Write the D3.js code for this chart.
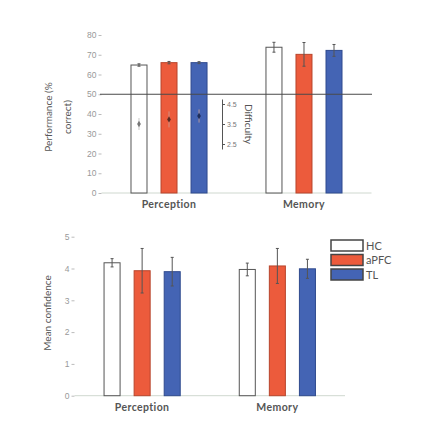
<!DOCTYPE html>
<html>
<head>
<meta charset="utf-8">
<script src="https://cdn.jsdelivr.net/npm/d3@7"></script>
<style>
  body { margin: 0; background: #fff; }
  svg { display: block; font-family: Lato, "DejaVu Sans", sans-serif; }
</style>
</head>
<body>
<svg id="chart" width="426" height="432"></svg>
<script>
// data
let tasks = ["Perception", "Memory"];
let groups = ["HC", "aPFC", "TL"];
let groupColor = ["#ffffff", "#ec5b3c", "#4464b4"];
let groupStroke = ["#555555", "#b8452c", "#2f4a8e"];

let perfMean = [[64.8, 66.0, 66.0], [73.8, 70.2, 72.2]];
let perfErr  = [[0.6, 0.6, 0.5], [2.5, 6.0, 3.0]];
let perfTicks = [0, 10, 20, 30, 40, 50, 60, 70, 80];

let diffMean = [3.5, 3.73, 3.9];
let diffErr  = [0.3, 0.4, 0.33];
let diffTicks = [2.5, 3.5, 4.5];

let confMean = [[4.18, 3.93, 3.9], [3.97, 4.08, 3.99]];
let confErr  = [[0.13, 0.7, 0.45], [0.2, 0.55, 0.3]];
let confTicks = [0, 1, 2, 3, 4, 5];

let svg = d3.select("#chart");

function rows(means, errs) {
    let out = [];
    for (let i = 0; i < tasks.length; i++) {
        for (let j = 0; j < groups.length; j++) {
            out.push({task: tasks[i], group: groups[j], g: j, val: means[i][j], err: errs[i][j]});
        }
    }
    return out;
}

function panel(opt) {
    let x0 = d3.scaleBand().domain(tasks).range(opt.xr).paddingInner(0.333).paddingOuter(0.1667);
    let x1 = d3.scaleBand().domain(groups).range([0, x0.bandwidth()]).paddingInner(0.467).paddingOuter(0.233);
    let y = d3.scaleLinear().domain(opt.yd).range(opt.yr);
    let g = svg.append("g");

    // baseline
    g.append("line")
        .attr("x1", opt.xr[0]).attr("x2", opt.xr[1])
        .attr("y1", y(0)).attr("y2", y(0))
        .attr("stroke", "#cfd8cf").attr("stroke-width", 1);

    // y axis
    let ax = g.append("g")
        .attr("transform", `translate(${opt.xr[0]},0)`)
        .call(d3.axisLeft(y).tickValues(opt.ticks).tickFormat(d => d).tickSize(3).tickPadding(2));
    ax.select(".domain").remove();
    ax.selectAll(".tick line").attr("stroke", "#bbbbbb");
    ax.selectAll("text").attr("fill", "#999999").style("font-size", "8.5px");

    g.append("text")
        .attr("transform", `translate(${opt.labelX},${opt.labelY}) rotate(-90)`)
        .attr("text-anchor", "middle")
        .attr("fill", "#555")
        .style("font-size", "10px")
        .selectAll("tspan").data(opt.label).enter().append("tspan")
            .attr("x", 0).attr("dy", (d, i) => i == 0 ? 0 : 19)
            .text(d => d);

    // category labels
    g.selectAll("text.cat").data(tasks).enter().append("text")
        .attr("class", "cat")
        .attr("x", d => x0(d) + x0.bandwidth() / 2)
        .attr("y", y(0) + opt.catDy)
        .attr("text-anchor", "middle")
        .attr("fill", "#555")
        .style("font-size", "10.5px")
        .style("font-weight", "bold")
        .style("letter-spacing", "0.4px")
        .text(d => d);

    let data = rows(opt.means, opt.errs);
    let cx = d => x0(d.task) + x1(d.group) + x1.bandwidth() / 2;

    g.selectAll("rect.bar").data(data).enter().append("rect")
        .attr("class", "bar")
        .attr("x", d => x0(d.task) + x1(d.group))
        .attr("y", d => y(d.val))
        .attr("width", x1.bandwidth())
        .attr("height", d => y(0) - y(d.val))
        .attr("fill", d => groupColor[d.g])
        .attr("stroke", d => groupStroke[d.g])
        .attr("stroke-width", 1);

    // error bars
    g.selectAll("line.err").data(data).enter().append("line")
        .attr("class", "err")
        .attr("x1", cx).attr("x2", cx)
        .attr("y1", d => y(d.val + d.err)).attr("y2", d => y(d.val - d.err))
        .attr("stroke", "#555").attr("stroke-width", 1);
    g.selectAll("line.cap").data(data.concat(data)).enter().append("line")
        .attr("class", "cap")
        .attr("x1", d => cx(d) - 1.5).attr("x2", d => cx(d) + 1.5)
        .attr("y1", (d, i) => y(i < data.length ? d.val + d.err : d.val - d.err))
        .attr("y2", (d, i) => y(i < data.length ? d.val + d.err : d.val - d.err))
        .attr("stroke", "#555").attr("stroke-width", 1);

    return {x0: x0, x1: x1, y: y, g: g};
}

// top panel: performance
let perf = panel({
    xr: [101.5, 371.5], yd: [0, 80], yr: [193, 35], ticks: perfTicks,
    means: perfMean, errs: perfErr,
    label: ["Performance (%", "correct)"], labelX: 52, labelY: 117, catDy: 15
});

// chance line
perf.g.append("line")
    .attr("x1", 100).attr("x2", 372)
    .attr("y1", perf.y(50)).attr("y2", perf.y(50))
    .attr("stroke", "#4a4a4a").attr("stroke-width", 1);

// difficulty inset axis
let yd = d3.scaleLinear().domain([2.25, 4.75]).range([149, 99]);
let dax = perf.g.append("g")
    .attr("transform", "translate(222,0)")
    .call(d3.axisRight(yd).tickValues(diffTicks).tickSize(3).tickPadding(2).tickSizeOuter(0));
dax.select(".domain").attr("stroke", "#555");
dax.selectAll(".tick line").attr("stroke", "#555");
dax.selectAll("text").attr("fill", "#777").style("font-size", "7px");

perf.g.append("text")
    .attr("transform", `translate(245,124) rotate(90)`)
    .attr("text-anchor", "middle")
    .attr("fill", "#555")
    .style("font-size", "10px")
    .text("Difficulty");

let diffData = groups.map((gr, j) => ({group: gr, g: j, val: diffMean[j], err: diffErr[j]}));
let dcx = d => perf.x0("Perception") + perf.x1(d.group) + perf.x1.bandwidth() / 2;
let dcol = ["#777", "#5a2a20", "#1d2d5a"];

perf.g.selectAll("line.derr").data(diffData).enter().append("line")
    .attr("x1", dcx).attr("x2", dcx)
    .attr("y1", d => yd(d.val + d.err)).attr("y2", d => yd(d.val - d.err))
    .attr("stroke", d => d.g == 0 ? "#bbb" : "#c9a096").attr("stroke-opacity", 0.8)
    .attr("stroke-width", 1);
perf.g.selectAll("path.dpt").data(diffData).enter().append("path")
    .attr("transform", d => `translate(${dcx(d)},${yd(d.val)})`)
    .attr("d", d3.symbol(d3.symbolDiamond, 12))
    .attr("fill", (d, i) => dcol[i]);

// bottom panel: confidence
panel({
    xr: [74.5, 345], yd: [0, 5], yr: [395.7, 236.7], ticks: confTicks,
    means: confMean, errs: confErr,
    label: ["Mean confidence"], labelX: 51, labelY: 313, catDy: 15
});

// legend
let leg = svg.append("g").attr("transform", "translate(331,240)");
let li = leg.selectAll("g").data(groups).enter().append("g")
    .attr("transform", (d, i) => `translate(0,${i * 14.5})`);
li.append("rect")
    .attr("width", 32).attr("height", 11)
    .attr("fill", (d, i) => groupColor[i])
    .attr("stroke", "#444").attr("stroke-width", 1.5);
li.append("text")
    .attr("x", 35).attr("y", 9.5)
    .attr("fill", "#555")
    .style("font-size", "11px")
    .text(d => d);
</script>
</body>
</html>
